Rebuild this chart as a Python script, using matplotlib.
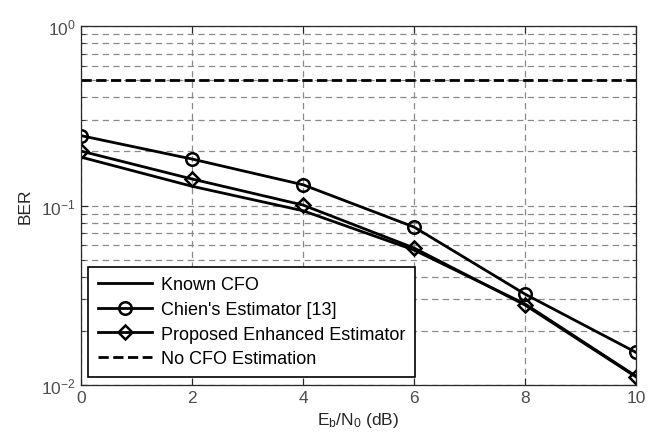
import numpy as np
import matplotlib
matplotlib.use("Agg")
from matplotlib import pyplot as plt
from matplotlib.ticker import LogLocator, LogFormatterMathtext, NullFormatter

plt.rcParams['font.family'] = ['Liberation Sans', 'DejaVu Sans']
plt.rcParams['mathtext.fontset'] = 'custom'
plt.rcParams['mathtext.rm'] = 'Liberation Sans'
plt.rcParams['mathtext.it'] = 'Liberation Sans'

# data
ebn0 = [0, 2, 4, 6, 8, 10]
known_cfo = [0.186, 0.128, 0.0935, 0.0565, 0.0283, 0.0112]
chien = [0.245, 0.1815, 0.1305, 0.0759, 0.0321, 0.0152]
proposed = [0.201, 0.1405, 0.1006, 0.058, 0.0279, 0.0111]
no_cfo = [0.5, 0.5, 0.5, 0.5, 0.5, 0.5]

fig = plt.figure(figsize=(6.59, 4.39), dpi=100)
ax = fig.add_axes([0.1229, 0.1207, 0.8422, 0.8178])

ax.semilogy(ebn0, known_cfo, '-', color='black', lw=2, label='Known CFO')
ax.semilogy(ebn0, chien, '-o', color='black', lw=2, ms=9, mfc='none', mew=1.8,
            label="Chien's Estimator [13]")
ax.semilogy(ebn0, proposed, '-D', color='black', lw=2, ms=7.5, mfc='none', mew=1.8,
            label='Proposed Enhanced Estimator')
ax.semilogy(ebn0, no_cfo, '--', color='black', lw=2, label='No CFO Estimation')

ax.set_xlim(0, 10)
ax.set_ylim(1e-2, 1)
ax.set_xticks([0, 2, 4, 6, 8, 10])
ax.yaxis.set_major_locator(LogLocator(base=10))
ax.yaxis.set_major_formatter(LogFormatterMathtext())
ax.yaxis.set_minor_locator(LogLocator(base=10, subs=np.arange(2, 10)))
ax.yaxis.set_minor_formatter(NullFormatter())

ax.grid(True, which='major', axis='both', ls=(0, (5, 3.5)), color='#8a8a8a', lw=0.9)
ax.grid(True, which='minor', axis='y', ls=(0, (5, 3.5)), color='#8a8a8a', lw=0.9)

ax.tick_params(which='both', direction='in', top=True, right=True,
               labelsize=12.5, colors='#262626', labelcolor='#4d4d4d')
ax.tick_params(which='major', length=5)
ax.tick_params(which='minor', length=3)
for s in ax.spines.values():
    s.set_color('#262626')
    s.set_linewidth(0.9)

ax.set_xlabel(r'$\mathregular{E_b/N_0}$ (dB)', fontsize=12.5, color='#262626', labelpad=4)
ax.set_ylabel('BER', fontsize=12.5, color='#262626', labelpad=6)

leg = ax.legend(loc='lower left', bbox_to_anchor=(0.0126, 0.022), fontsize=13,
                frameon=True, fancybox=False, framealpha=1, edgecolor='black',
                handlelength=3.0, handletextpad=0.5, borderpad=0.55,
                labelspacing=0.42, borderaxespad=0)
leg.get_frame().set_linewidth(1.2)

fig.savefig('out.png', dpi=100)
